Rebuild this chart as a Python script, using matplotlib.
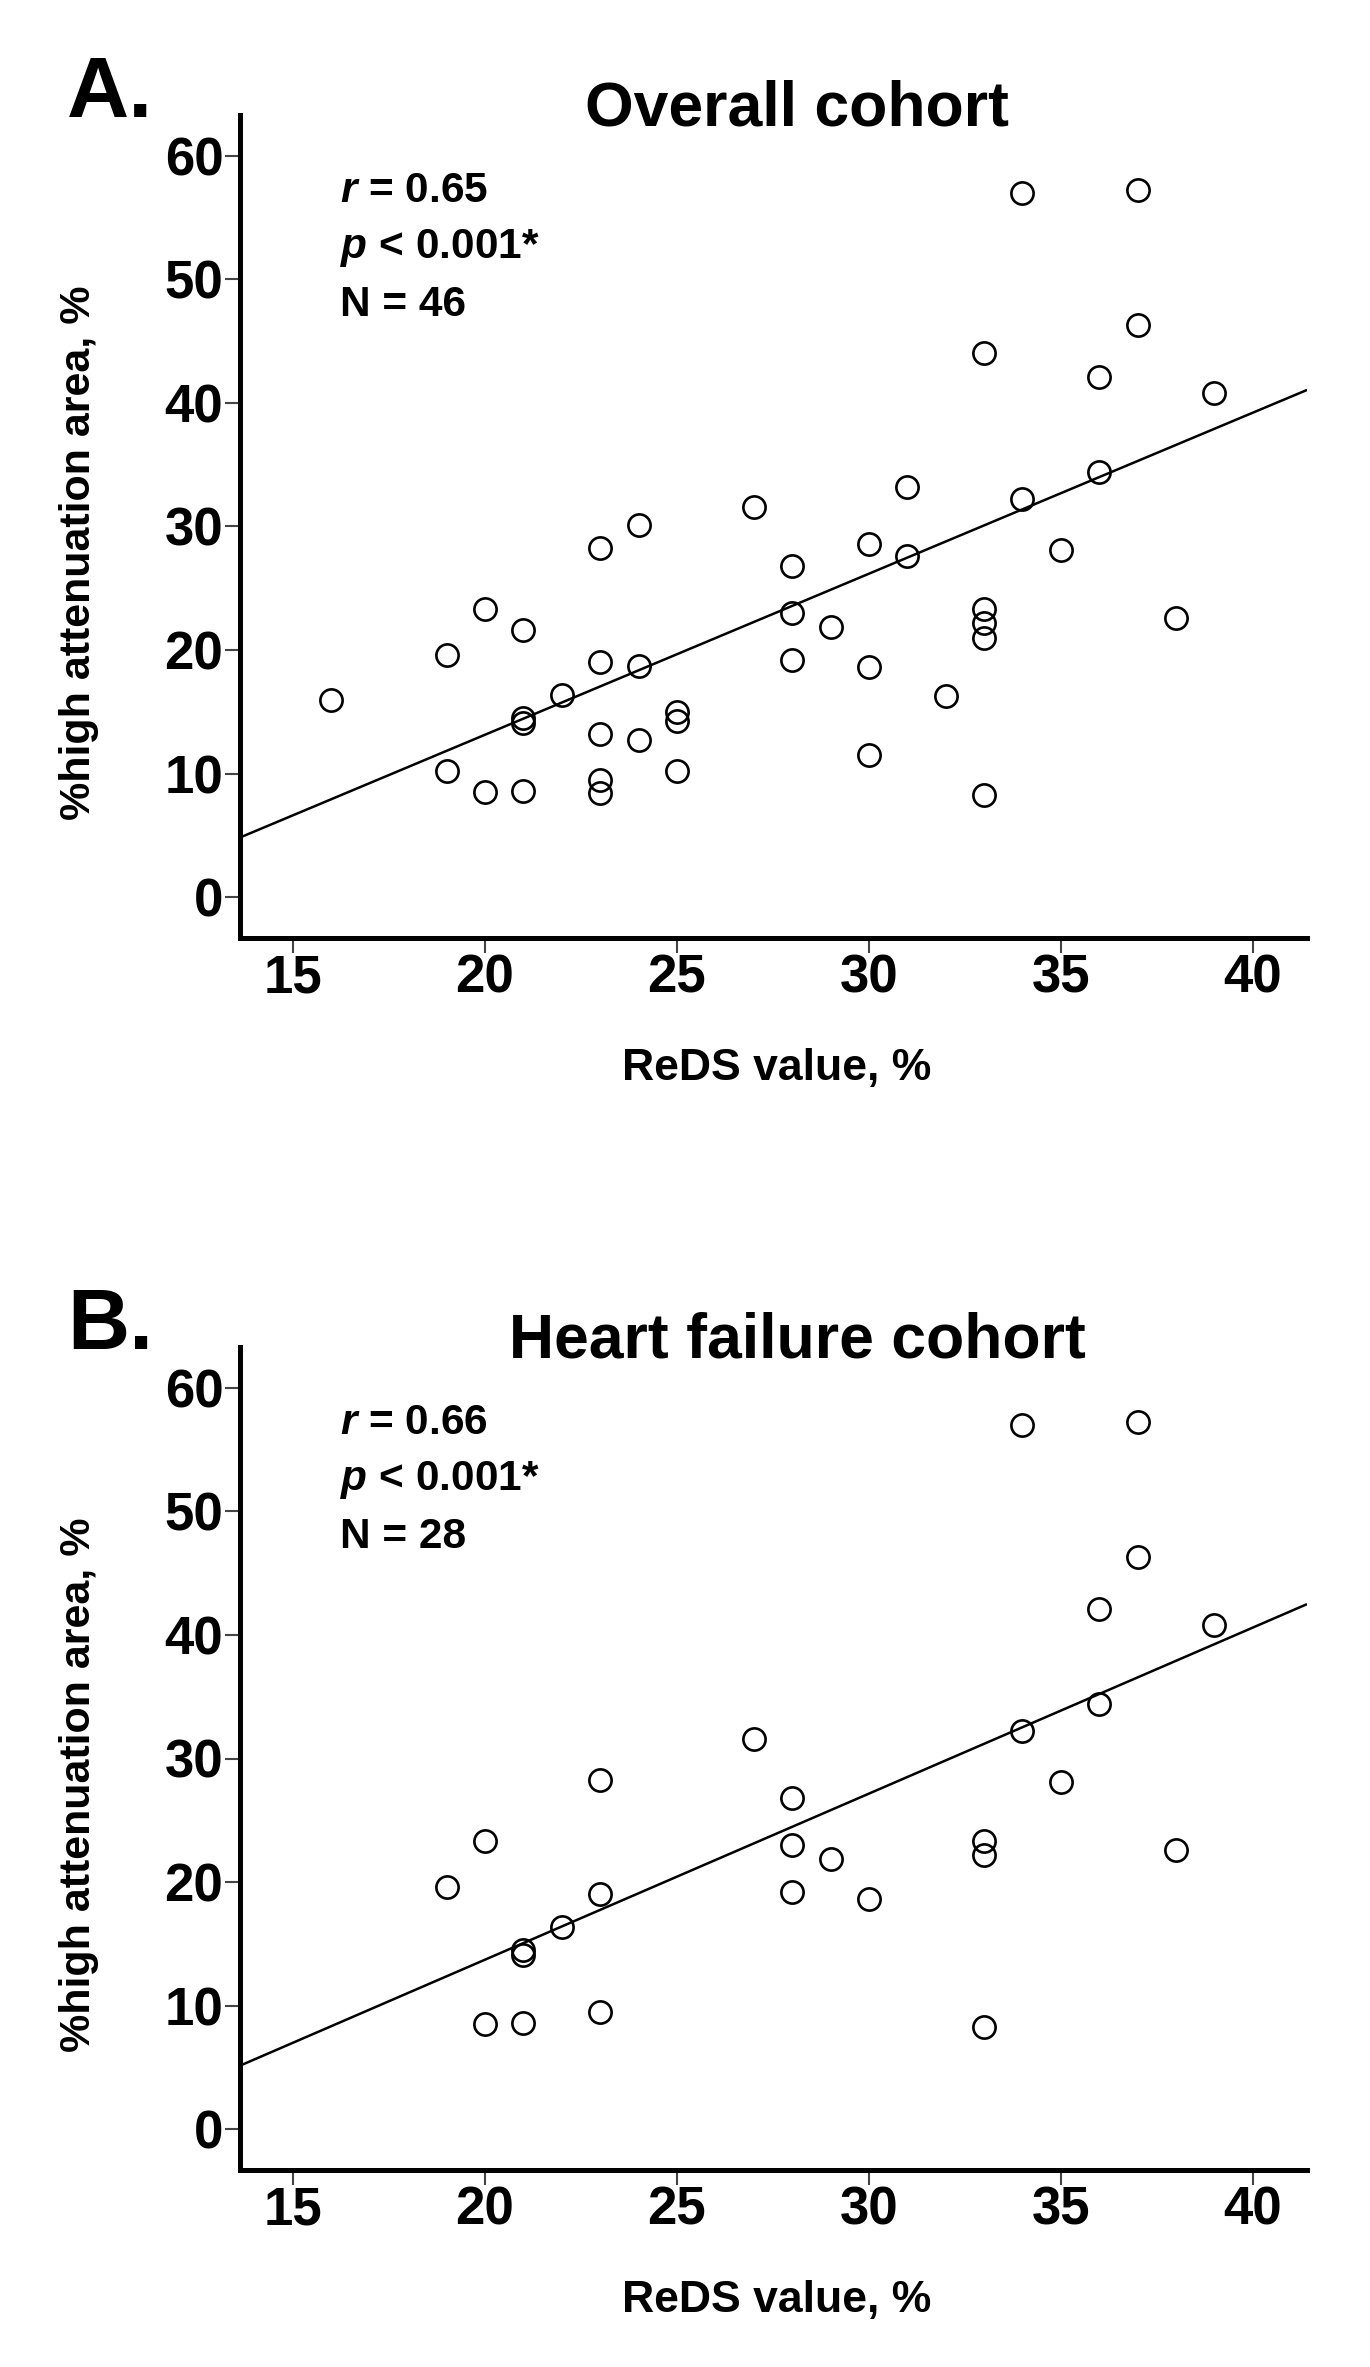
import numpy as np
import matplotlib
matplotlib.use('Agg')
import matplotlib.pyplot as plt
from matplotlib import rcParams

rcParams.update({
    'font.family': ['Liberation Sans', 'DejaVu Sans'],
    'font.weight': 'bold',
    'mathtext.fontset': 'custom',
    'mathtext.rm': 'Liberation Sans:bold',
    'mathtext.it': 'Liberation Sans:italic:bold',
})

# ReDS value (%) vs %high attenuation area, overall cohort (N = 46)
reds_all = [16, 19, 19, 20, 20, 21, 21, 21, 21, 22,
            23, 23, 23, 23, 23, 24, 24, 24, 25, 25,
            25, 27, 28, 28, 28, 29, 30, 30, 30, 31,
            31, 32, 33, 33, 33, 33, 33, 34, 34, 35,
            36, 36, 37, 37, 38, 39]
haa_all = [16.0, 19.6, 10.2, 23.3, 8.5, 21.6, 14.5, 14.1, 8.6, 16.4,
           28.3, 19.0, 13.2, 9.5, 8.4, 30.1, 18.7, 12.7, 15.0, 14.3,
           10.2, 31.6, 26.8, 23.0, 19.2, 21.9, 28.6, 18.6, 11.5, 33.2,
           27.6, 16.3, 44.0, 23.3, 22.2, 21.0, 8.3, 57.0, 32.2, 28.1,
           42.1, 34.4, 57.2, 46.3, 22.6, 40.8]

# heart failure cohort (N = 28)
reds_hf = [19, 20, 20, 21, 21, 21, 22, 23, 23, 23,
           27, 28, 28, 28, 29, 30, 33, 33, 33, 34,
           34, 35, 36, 36, 37, 37, 38, 39]
haa_hf = [19.6, 23.3, 8.5, 14.5, 14.1, 8.6, 16.4, 28.3, 19.0, 9.5,
          31.6, 26.8, 23.0, 19.2, 21.9, 18.6, 23.3, 22.2, 8.3, 57.0,
          32.2, 28.1, 42.1, 34.4, 57.2, 46.3, 22.6, 40.8]

panels = [
    ('A.', 'Overall cohort', reds_all, haa_all, '0.65', '< 0.001*', 46),
    ('B.', 'Heart failure cohort', reds_hf, haa_hf, '0.66', '< 0.001*', 28),
]

W, H = 1370, 2367
FIG = plt.figure(figsize=(W / 100, H / 100), dpi=100)

# axes boxes in pixels: left, top, right, bottom
boxes = [(240, 115, 1307, 938), (240, 1347, 1307, 2170)]


def px_axes(box):
    l, t, r, b = box
    return [l / W, 1 - b / H, (r - l) / W, (b - t) / H]


for (letter, title, x, y, rtxt, ptxt, n), box in zip(panels, boxes):
    ax = FIG.add_axes(px_axes(box))
    ax.set_xlim(13.62, 41.41)
    ax.set_ylim(-3.3, 63.3)
    ax.plot(x, y, 'o', ms=16, mfc='none', mec='black', mew=1.9, zorder=3)

    # least squares line over the whole x range
    slope, icept = np.polyfit(x, y, 1)
    xl = np.array(ax.get_xlim())
    ax.plot(xl, icept + slope * xl, color='black', lw=1.8, zorder=2,
            solid_capstyle='butt')

    ax.spines['top'].set_visible(False)
    ax.spines['right'].set_visible(False)
    for s in ('left', 'bottom'):
        ax.spines[s].set_linewidth(3.6)
    ax.set_xticks(np.arange(15, 41, 5))
    ax.set_yticks(np.arange(0, 61, 10))
    ax.tick_params(axis='both', direction='out', length=11, width=1.5,
                   color='#444444', labelsize=38)
    ax.tick_params(axis='x', pad=0)
    ax.tick_params(axis='y', pad=1)
    for lab in ax.get_xticklabels() + ax.get_yticklabels():
        lab.set_fontweight('bold')

    ax.text(0.0937, 0.894, r'$\mathit{r}$ = ' + rtxt, transform=ax.transAxes,
            fontsize=30.5, va='baseline', ha='left')
    ax.text(0.0937, 0.826, r'$\mathit{p}$ ' + ptxt, transform=ax.transAxes,
            fontsize=30.5, va='baseline', ha='left')
    ax.text(0.0937, 0.756, 'N = %d' % n, transform=ax.transAxes,
            fontsize=30.5, va='baseline', ha='left')

    l, t, r, b = box
    FIG.text(67 / W, 1 - (t + 2) / H, letter, fontsize=62, ha='left', va='baseline')
    FIG.text(797 / W, 1 - (t + 10) / H, title, fontsize=45, ha='center', va='baseline')
    FIG.text(777 / W, 1 - (b + 142) / H, 'ReDS value, %', fontsize=32,
             ha='center', va='baseline')
    FIG.text(90 / W, 1 - (t + 438) / H, '%high attenuation area, %', fontsize=31,
             rotation=90, rotation_mode='anchor', ha='center', va='baseline')

FIG.savefig('out.png', dpi=100)
